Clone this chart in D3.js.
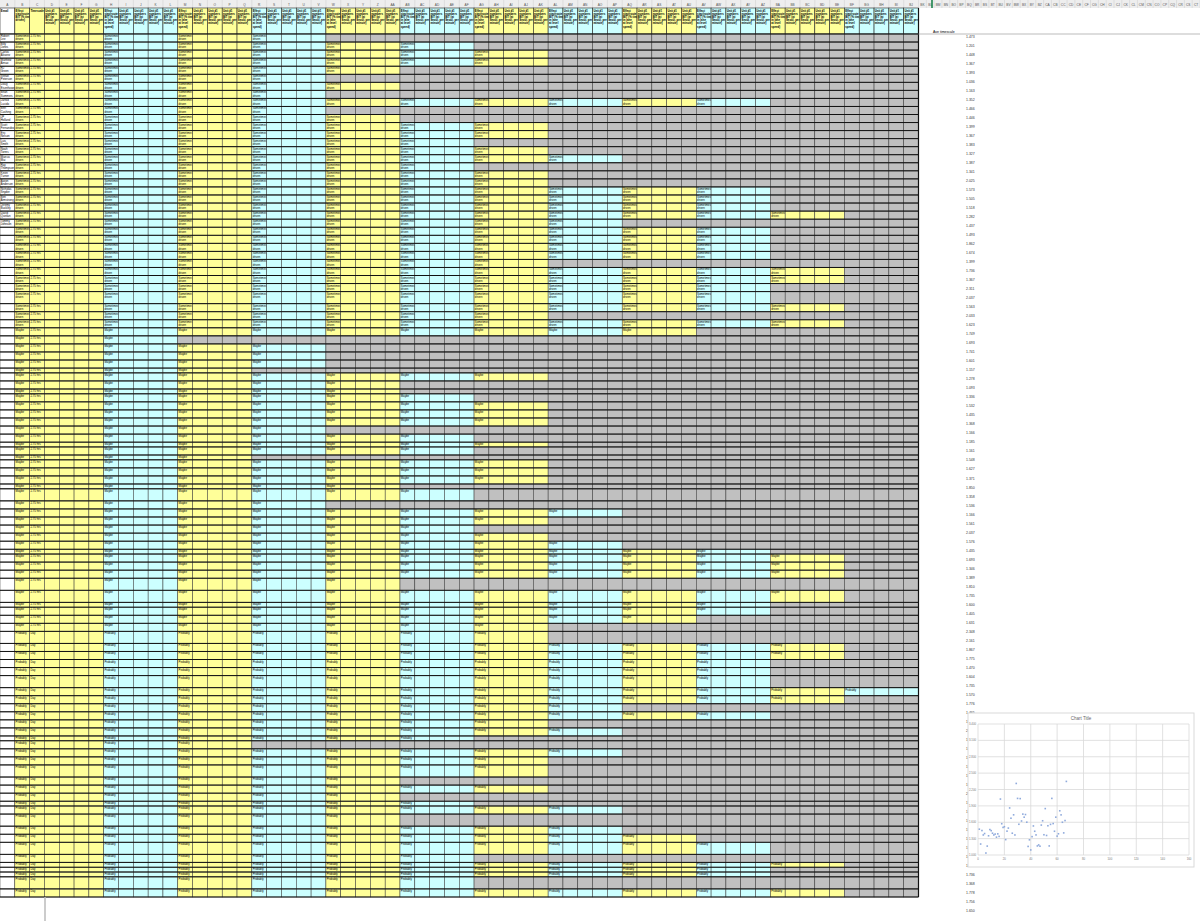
<!DOCTYPE html>
<html>
<head>
<meta charset="utf-8">
<script src="https://cdn.jsdelivr.net/npm/d3@7"></script>
<style>
body { margin: 0; background: #fff; }
svg { display: block; font-family: "Liberation Sans", Arial, sans-serif; }
</style>
</head>
<body>
<svg id="sheet" width="1200" height="921"></svg>
<script>
// filled answer groups per respondent (of 11 groups after the first block)
var filled_a = [3,5,6,6,4,3,4,3,9,3,4,6,6,5,6,7,5,6,6,9,9,9,10,7,9,9,9,9,6,10,10,9,9,10,6,10];
var filled_b = [8,1,3,3,3,2,6,4,4,5,6,6,6,3,5,6,5,2,6,6,6,4,5,3,7,6,5,6,7,9,10,10,10,4,10,9,9,8,6];
var filled_c = [6,10,10,9,9,9,11,10,7,9,6,7,5,2,7,6,6,4,6,4,5,7,4,7,8,9,5,10,9,9,5,10];
// row height class: 0 thin, 1 normal, 2 tall
var height_a = [1,1,1,1,1,1,1,1,1,1,1,1,1,1,1,1,1,1,1,1,1,1,1,1,1,1,1,1,1,1,1,1,2,1,1,1];
var height_b = [1,1,1,1,1,0,1,1,0,1,1,1,1,1,1,0,1,0,1,1,1,0,2,1,1,1,1,1,1,0,1,1,1,2,2,0,1,1,1];
var height_c = [2,1,1,1,1,2,1,1,1,1,1,1,0,1,1,1,2,1,1,1,0,1,2,1,1,2,1,0,0,0,2,1];
var answer_labels = [["Sometimes", "driven"], ["Maybe"], ["Probably"]];
var time_labels = ["2.75 hrs", "2.75 hrs", "Day"];
var names = ["Robert Lee","Billy Jones","Carlos Alvarez","Matthew Arnao","RJ Green","Stefan Peterson",
  "Doug Eisenhower","Brian Summers","Jarrod Lucido","Bret Cushing","JP Holland","Scott Fernandez",
  "Eric Nelson","Luis Smith","Noah Torres","Marcus Mai","Ray Thompson","Kevin Turner","Aaron Anderson",
  "Nicholas Snyder","Ben Armstrong","Jeremy Buckley","David Quinlan","Tommy Johnson"];
var timescale = [1.473,1.201,1.448,1.367,1.393,1.036,1.163,1.352,1.466,1.446,1.399,1.367,1.383,1.327,
  1.387,1.341,2.025,1.573,1.505,1.518,1.282,1.437,1.493,1.862,1.674,1.399,1.736,1.367,2.311,2.037,
  1.563,2.033,1.623,1.749,1.693,1.741,1.601,1.157,1.278,1.093,1.336,1.532,1.435,1.368,1.166,1.185,
  1.161,1.548,1.627,1.371,1.850,1.358,1.536,1.166,1.561,2.037,1.576,1.435,1.693,1.346,1.389,1.810,
  1.735,1.600,1.405,1.631,2.348,2.161,1.867,1.775,1.470,1.604,1.735,1.570,1.776,1.465,1.896,2.652,
  1.255,1.535,1.376,1.148,1.601,1.426,2.951,1.681,1.435,1.385,1.784,1.961,1.561,1.604,1.523,1.736,
  1.368,1.778,1.756,1.650];
var scatter_x_ticks = [0,20,40,60,80,100,120,140,160];
var scatter_y_ticks = [1.0,1.3,1.6,1.9,2.2,2.5,2.8,3.1,3.4];

var svg = d3.select('#sheet');
var yellow = '#ffff99', cyan = '#ccffff', grey = '#c0c0c0';

// build the row list
var rows = [];
[[filled_a, height_a], [filled_b, height_b], [filled_c, height_c]].forEach(function (sec, s) {
    sec[0].forEach(function (n, i) {
        rows.push({filled: n, h: [0.6, 1, 1.5][sec[1][i]], sec: s, name: names[rows.length] || ''});
    });
});
var acc = 0;
rows.forEach(function (r) { r.u0 = acc; acc += r.h; r.u1 = acc; });
var y = d3.scaleLinear().domain([0, acc]).range([34, 897]);

// columns: A..BJ = 62 columns
var ncol = 62;
var x = d3.scaleLinear().domain([0, ncol]).range([0, 918.5]);
function colName(i) {
    var s = '';
    i += 1;
    while (i > 0) { var m = (i - 1) % 26; s = String.fromCharCode(65 + m) + s; i = Math.floor((i - 1) / 26); }
    return s;
}
function colGroup(c) { return c < 7 ? -1 : Math.floor((c - 7) / 5); }
function colColor(c) {
    if (c == 0) return '#fff';
    var g = colGroup(c);
    return (g < 0 || g % 2 == 1) ? yellow : cyan;
}
// write lines of small text into a cell, as many as fit
function cellText(sel, x0, y0, hh, lines, size, bold) {
    var max = Math.max(1, Math.floor((hh - 0.5) / (size * 1.15)));
    var t = sel.append('text').attr('font-size', size);
    if (bold) t.attr('font-weight', 'bold');
    lines.slice(0, max).forEach(function (s, k) {
        t.append('tspan').attr('x', x0 + 0.8).attr('y', y0 + size + 0.2 + k * size * 1.15).text(s);
    });
}

// column letter bar
svg.append('rect').attr('x', 0).attr('y', 0).attr('width', 1200).attr('height', 8).attr('fill', '#eeeeee');
var letters = d3.range(0, 98);
var xr = d3.scaleLinear().domain([ncol, 98]).range([918.5, 1200]);
svg.selectAll('.let').data(letters).enter().append('g').each(function (c) {
    var x0 = c < ncol ? x(c) : xr(c), x1 = c < ncol ? x(c + 1) : xr(c + 1);
    var g = d3.select(this);
    g.append('line').attr('x1', x1).attr('x2', x1).attr('y1', 0).attr('y2', 8).attr('stroke', '#ccc').attr('stroke-width', 0.5);
    g.append('text').attr('x', (x0 + x1) / 2).attr('y', 6).attr('text-anchor', 'middle')
        .attr('font-size', 3.2).attr('fill', '#555').text(colName(c));
});
svg.append('line').attr('x1', 932).attr('x2', 932).attr('y1', 0).attr('y2', 8).attr('stroke', '#107c41').attr('stroke-width', 1.5);

// header row
var header = svg.append('g');
d3.range(ncol).forEach(function (c) {
    header.append('rect').attr('x', x(c)).attr('y', 8).attr('width', x(1)).attr('height', 26)
        .attr('fill', colColor(c)).attr('stroke', '#222').attr('stroke-width', 0.6);
    var lines;
    if (c == 0) lines = ['Email'];
    else if (c == 1) lines = ['Effect', 'stay/route', 'BIT (% time', 'driven)'];
    else if (c == 2) lines = ['Timescale'];
    else if (c > 6 && (c - 2) % 5 == 0) lines = ['Effect', 'stay/route', 'BIT (% time', 'in lane', 'at level', 'speed)'];
    else lines = ['Unit #1', 'numbers', 'BIT (at', 'Seoul, per', 'minute)'];
    cellText(header, x(c), 8.5, 25, lines, 2.8, true);
});

// body cells
var body = svg.append('g');
rows.forEach(function (r) {
    var y0 = y(r.u0), hh = y(r.u1) - y(r.u0);
    d3.range(ncol).forEach(function (c) {
        var g = colGroup(c);
        var fill = (g >= r.filled) ? grey : colColor(c);
        body.append('rect').attr('x', x(c)).attr('y', y0).attr('width', x(1)).attr('height', hh)
            .attr('fill', fill).attr('stroke', '#333').attr('stroke-width', 0.5);
        if (fill == grey) return;
        if (c == 0) {
            cellText(body, x(c), y0, hh, r.name.split(' '), 2.8);
        } else if (c == 1 || (c > 6 && (c - 2) % 5 == 0)) {
            cellText(body, x(c), y0, hh, answer_labels[r.sec], 2.8);
        } else if (c == 2) {
            cellText(body, x(c), y0, hh, [time_labels[r.sec]], 2.8);
        }
    });
    body.append('line').attr('x1', 0).attr('x2', x(ncol)).attr('y1', y0).attr('y2', y0)
        .attr('stroke', '#111').attr('stroke-width', 1);
});
body.append('line').attr('x1', 0).attr('x2', x(ncol)).attr('y1', 897).attr('y2', 897).attr('stroke', '#111').attr('stroke-width', 1.2);
body.append('line').attr('x1', x(ncol)).attr('x2', x(ncol)).attr('y1', 8).attr('y2', 897).attr('stroke', '#111').attr('stroke-width', 1.2);
svg.append('line').attr('x1', 45).attr('x2', 45).attr('y1', 897).attr('y2', 921).attr('stroke', '#bbb').attr('stroke-width', 1.5);

// timescale column
svg.append('line').attr('x1', x(ncol)).attr('x2', 1200).attr('y1', 34).attr('y2', 34).attr('stroke', '#aaa').attr('stroke-width', 0.8);
svg.append('text').attr('x', 933).attr('y', 33).attr('font-size', 3.5).text('Ave timescale');
var yt = d3.scaleLinear().domain([0, timescale.length - 1]).range([38, 912]);
svg.selectAll('.ts').data(timescale).enter().append('text')
    .attr('x', 966).attr('y', function (d, i) { return yt(i); })
    .attr('font-size', 3.5).attr('fill', '#333').text(function (d) { return d.toFixed(3); });

// scatter chart (sits over the column values)
var chart = svg.append('g');
chart.append('rect').attr('x', 968).attr('y', 713).attr('width', 226).attr('height', 154)
    .attr('fill', '#fff').attr('stroke', '#d9d9d9');
chart.append('text').attr('x', 1081).attr('y', 720).attr('text-anchor', 'middle')
    .attr('font-size', 4.5).attr('fill', '#666').text('Chart Title');
var sx = d3.scaleLinear().domain([0, 160]).range([978, 1189]);
var sy = d3.scaleLinear().domain([1.0, 3.4]).range([855, 724]);
chart.selectAll('.gy').data(scatter_y_ticks).enter().append('line')
    .attr('x1', sx(0)).attr('x2', sx(160)).attr('y1', sy).attr('y2', sy).attr('stroke', '#d9d9d9').attr('stroke-width', 0.8);
chart.selectAll('.gx').data(scatter_x_ticks).enter().append('line')
    .attr('x1', sx).attr('x2', sx).attr('y1', sy(1.0)).attr('y2', sy(3.4)).attr('stroke', '#d9d9d9').attr('stroke-width', 0.8);
chart.selectAll('.ly').data(scatter_y_ticks).enter().append('text')
    .attr('x', sx(0) - 2).attr('y', function (d) { return sy(d) + 1; }).attr('text-anchor', 'end')
    .attr('font-size', 2.8).attr('fill', '#777').text(function (d) { return d.toFixed(3); });
chart.selectAll('.lx').data(scatter_x_ticks).enter().append('text')
    .attr('x', sx).attr('y', sy(1.0) + 5).attr('text-anchor', 'middle')
    .attr('font-size', 2.8).attr('fill', '#777').text(function (d) { return d; });
chart.selectAll('.pt').data(timescale.slice(0, 67)).enter().append('rect')
    .attr('x', function (d, i) { return sx(i + 1) - 0.8; })
    .attr('y', function (d) { return sy(d) - 0.8; })
    .attr('width', 1.6).attr('height', 1.6).attr('fill', '#8faadc');
</script>
</body>
</html>
